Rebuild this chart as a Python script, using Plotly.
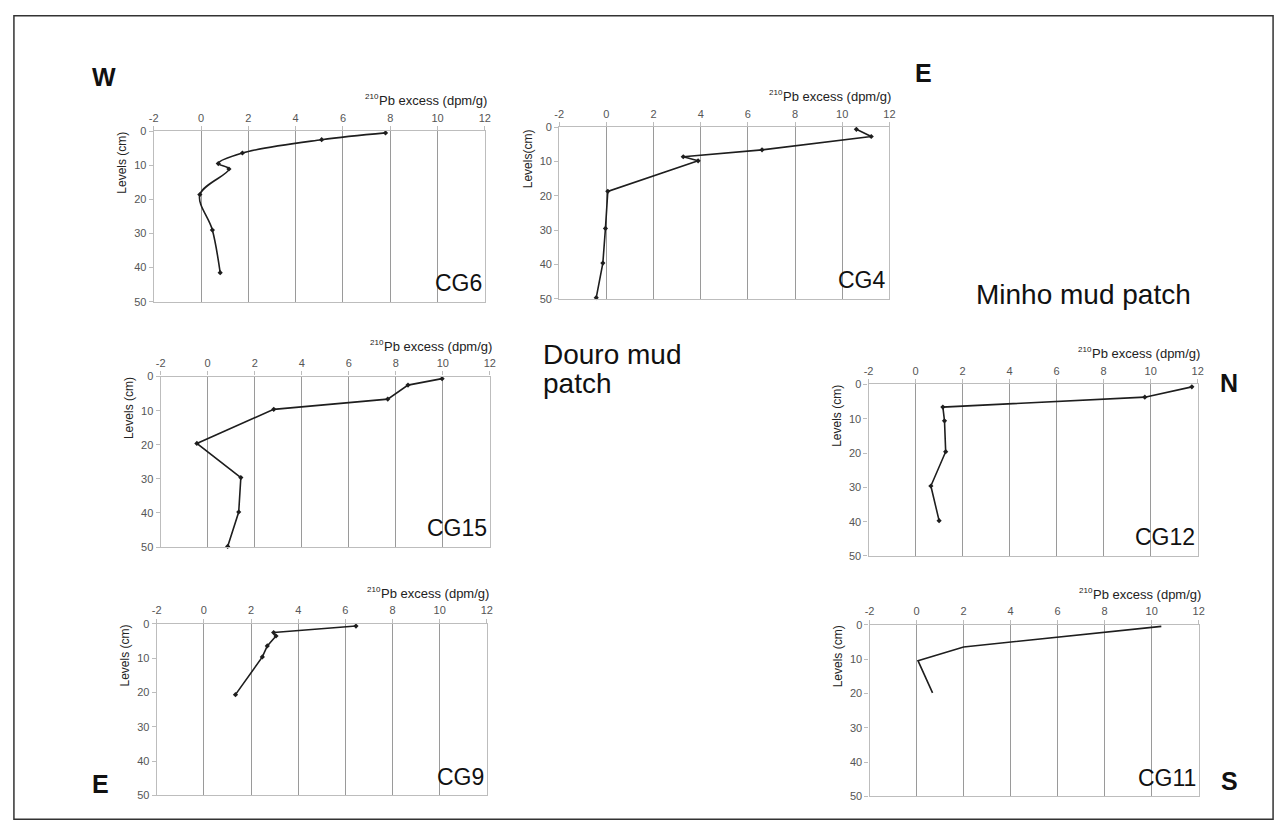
import plotly.graph_objects as go

W, H = 1288, 834

# ---- data (210Pb excess in dpm/g vs level in cm) ----
cg6_x = [7.8, 5.1, 1.75, 0.73, 1.18, -0.05, 0.48, 0.81]
cg6_y = [0.5, 2.5, 6.4, 9.5, 11.1, 18.6, 29.0, 41.5]

cg4_x = [10.6, 11.23, 6.6, 3.26, 3.89, 0.06, -0.04, -0.15, -0.43]
cg4_y = [0.6, 2.7, 6.6, 8.6, 9.8, 18.7, 29.5, 39.6, 49.7]

cg15_x = [9.97, 8.52, 7.66, 2.81, -0.46, 1.41, 1.32, 0.85]
cg15_y = [0.6, 2.5, 6.6, 9.6, 19.6, 29.6, 39.7, 49.8]

cg12_x = [11.75, 9.75, 1.16, 1.23, 1.28, 0.65, 1.0]
cg12_y = [0.7, 3.7, 6.6, 10.6, 19.6, 29.6, 39.7]

cg9_x = [6.45, 2.96, 3.06, 2.69, 2.48, 1.34]
cg9_y = [0.6, 2.5, 3.5, 6.4, 9.6, 20.6]

cg11_x = [10.41, 2.0, 0.06, 0.68]
cg11_y = [0.4, 6.4, 10.4, 19.8]

x_ticks = [-2, 0, 2, 4, 6, 8, 10, 12]
y_ticks = [0, 10, 20, 30, 40, 50]
x_title_main = "Pb excess (dpm/g)"
x_title_sup = "210"

# ---- layout of panels (pixel boxes: left, right, top, bottom) ----
panels = [
    dict(name="CG6", x=cg6_x, y=cg6_y, box=(150, 484, 127, 300), ytitle="Levels (cm)", markers=True, shape="spline"),
    dict(name="CG4", x=cg4_x, y=cg4_y, box=(559, 892, 123, 297), ytitle="Levels(cm)", markers=True, shape="linear"),
    dict(name="CG15", x=cg15_x, y=cg15_y, box=(157, 489, 376, 549), ytitle="Levels (cm)", markers=True, shape="linear"),
    dict(name="CG12", x=cg12_x, y=cg12_y, box=(871, 1203, 384, 558), ytitle="Levels (cm)", markers=True, shape="linear"),
    dict(name="CG9", x=cg9_x, y=cg9_y, box=(153, 486, 627, 801), ytitle="Levels (cm)", markers=True, shape="linear"),
    dict(name="CG11", x=cg11_x, y=cg11_y, box=(872, 1204, 628, 802), ytitle="Levels (cm)", markers=False, shape="linear"),
]

FONT = "Liberation Sans, Arial, sans-serif"
TITLE_SIZE = 13

def px(xp):
    return xp / W

def py(yp):
    return 1 - yp / H

fig = go.Figure()
annotations = []
layout = {}

main_w = 8.336 * TITLE_SIZE  # approx rendered width of main title text

for i, p in enumerate(panels, start=1):
    l, r, t, b = p["box"]
    xa = "x" if i == 1 else f"x{i}"
    ya = "y" if i == 1 else f"y{i}"
    fig.add_trace(go.Scatter(
        x=p["x"], y=p["y"], xaxis=xa, yaxis=ya,
        mode="lines+markers" if p["markers"] else "lines",
        line=dict(color="#1e1e1e", width=1.6, shape=p["shape"], smoothing=1.0),
        marker=dict(color="#1e1e1e", size=4, symbol="diamond"),
        showlegend=False, cliponaxis=False,
    ))
    xkey = "xaxis" if i == 1 else f"xaxis{i}"
    ykey = "yaxis" if i == 1 else f"yaxis{i}"
    layout[xkey] = dict(
        domain=[px(l), px(r)], anchor=ya, side="top",
        range=[-2, 12], tickvals=x_ticks, ticktext=[str(v) for v in x_ticks],
        showgrid=True, gridcolor="#9a9a9a", gridwidth=1,
        showline=True, linecolor="#bdbdbd", linewidth=1.2, mirror=True,
        ticks="outside", ticklen=4, tickcolor="#bdbdbd",
        tickfont=dict(family=FONT, size=11, color="#555555"),
        zeroline=False, fixedrange=True,
    )
    layout[ykey] = dict(
        domain=[py(b), py(t)], anchor=xa,
        range=[50, 0], tickvals=y_ticks,
        showgrid=False,
        showline=True, linecolor="#bdbdbd", linewidth=1.2, mirror=True,
        ticks="outside", ticklen=4, tickcolor="#bdbdbd",
        tickfont=dict(family=FONT, size=11, color="#555555"),
        zeroline=False, fixedrange=True,
    )
    # x-axis title above tick labels (main text + superscript)
    annotations.append(dict(
        text=x_title_main, xref="paper", yref="paper",
        x=px(r + 4), y=py(t - 31), xanchor="right", yanchor="middle",
        showarrow=False, font=dict(family=FONT, size=TITLE_SIZE, color="#222"),
    ))
    annotations.append(dict(
        text=x_title_sup, xref="paper", yref="paper",
        x=px(r + 4 - main_w - 0.5), y=py(t - 35), xanchor="right", yanchor="middle",
        showarrow=False, font=dict(family=FONT, size=8, color="#222"),
    ))
    # y-axis title
    annotations.append(dict(
        text=p["ytitle"], xref="paper", yref="paper",
        x=px(l - 32), y=py(t + 32), xanchor="center", yanchor="middle",
        textangle=-90, showarrow=False, font=dict(family=FONT, size=12, color="#222"),
    ))
    # panel label
    annotations.append(dict(
        text=p["name"], xref="paper", yref="paper",
        x=px(r - 1), y=py(b - 4), xanchor="right", yanchor="bottom",
        showarrow=False, font=dict(family=FONT, size=23, color="#111"),
    ))

# compass letters and region labels
bold_labels = [("W", 100, 72), ("E", 926, 68), ("E", 96, 789), ("N", 1235, 382), ("S", 1235, 786)]
for txt, xp, yp in bold_labels:
    annotations.append(dict(
        text=txt, xref="paper", yref="paper", x=px(xp), y=py(yp),
        xanchor="center", yanchor="middle", showarrow=False,
        font=dict(family=FONT, size=25, color="#111", weight="bold"),
    ))

region_labels = [("Minho mud patch", 1088, 293, "center"),
                 ("Douro mud", 541, 354, "left"),
                 ("patch", 541, 383, "left")]
for txt, xp, yp, anc in region_labels:
    annotations.append(dict(
        text=txt, xref="paper", yref="paper", x=px(xp), y=py(yp),
        xanchor=anc, yanchor="middle", showarrow=False,
        font=dict(family=FONT, size=28, color="#111"),
    ))

fig.update_layout(
    width=W, height=H, margin=dict(l=0, r=0, t=0, b=0),
    paper_bgcolor="white", plot_bgcolor="white",
    annotations=annotations,
    shapes=[dict(type="rect", xref="paper", yref="paper",
                 x0=px(9), x1=px(1279), y0=py(825), y1=py(10),
                 line=dict(color="#333", width=1.5))],
    **layout,
)

fig.write_html("out.html")
